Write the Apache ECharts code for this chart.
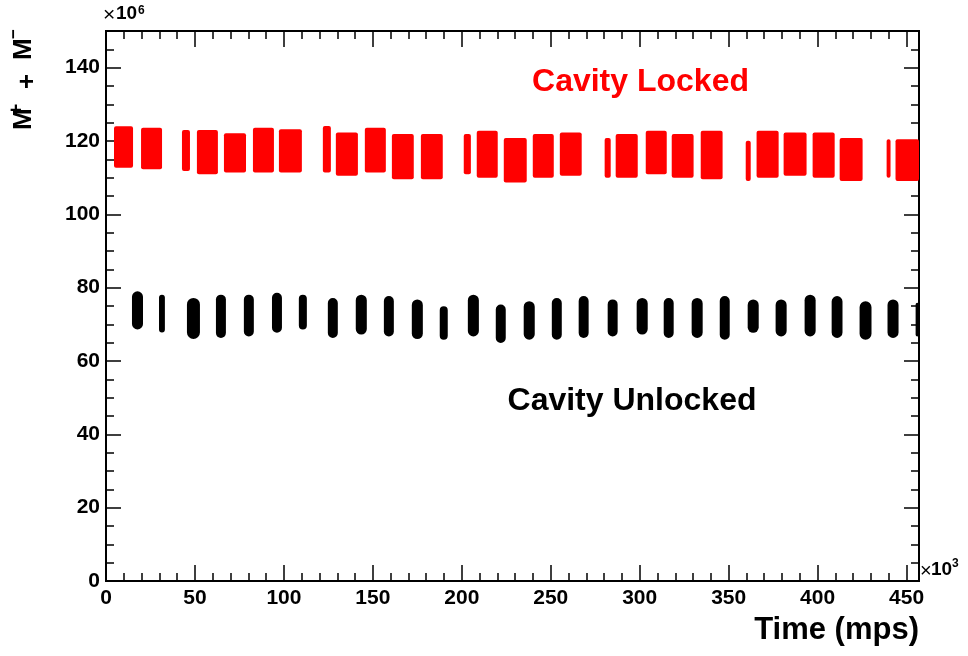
<!DOCTYPE html>
<html><head><meta charset="utf-8">
<script src="https://cdn.jsdelivr.net/npm/echarts@6/dist/echarts.min.js"></script>
<style>html,body{margin:0;padding:0;background:#fff}#c{width:968px;height:656px}</style>
</head><body><div id="c"></div>
<script>
// Time in units of 10^3 mps, signal in units of 10^6
const lockedStart = [4.5,19.7,42.7,51.1,66.3,82.6,97.2,121.9,129.2,145.5,160.7,177.0,201.1,208.4,223.6,239.9,255.1,280.3,286.5,303.4,318.0,334.3,359.6,365.7,380.9,397.2,412.4,438.8,443.8];
const lockedEnd   = [15.2,31.5,47.2,62.9,78.7,94.4,110.1,126.4,141.6,157.3,173.0,189.3,205.1,220.2,236.5,251.7,267.4,283.7,298.9,315.2,330.3,346.6,362.4,378.1,393.8,409.6,425.3,441.0,457];
const lockedLow   = [112.7,112.3,111.8,110.9,111.4,111.4,111.4,111.4,110.5,111.4,109.6,109.6,110.9,110.0,108.7,110.0,110.5,110.0,110.0,110.9,110.0,109.6,109.1,110.0,110.5,110.0,109.1,110.0,109.1];
const lockedHigh  = [124.0,123.6,123.0,123.0,122.1,123.6,123.2,124.1,122.3,123.6,121.9,121.9,121.9,122.8,120.8,121.9,122.3,120.8,121.9,122.8,121.9,122.8,120.1,122.8,122.3,122.3,120.8,120.5,120.5];

const unlockedStart = [14.6,29.8,45.5,61.8,77.5,93.3,108.4,124.7,140.4,156.2,171.9,187.6,203.4,219.1,234.8,250.6,265.7,282.0,298.3,313.5,329.2,345.0,360.7,376.4,392.7,407.9,423.6,439.3,455.1];
const unlockedEnd   = [20.8,33.1,52.8,67.4,83.1,98.9,112.9,130.3,146.6,161.8,178.1,192.1,209.6,224.7,241.0,256.2,271.3,287.6,304.5,319.1,335.4,350.6,366.9,382.6,398.9,414.0,430.3,445.5,457];
const unlockedLow   = [68.6,67.8,66.0,66.3,66.7,67.7,68.6,66.3,67.2,66.7,66.0,65.8,66.7,64.9,65.8,65.8,66.3,66.7,67.2,66.3,66.3,65.8,67.7,66.7,66.7,66.3,65.8,66.3,66.7];
const unlockedHigh  = [79.0,78.1,77.2,78.1,78.1,78.6,78.1,77.2,78.1,77.7,76.8,74.9,78.1,75.4,76.3,77.2,77.7,76.8,77.2,77.2,77.2,77.7,76.8,76.8,78.1,77.7,76.3,76.8,75.9];

const xMin = 0, xMax = 457, xMajor = 50, xMinor = 10;
const yMin = 0, yMax = 150, yMajor = 20, yMinor = 5;

const lockedData = lockedStart.map((s,i)=>[s, lockedEnd[i], lockedLow[i], lockedHigh[i]]);
const unlockedData = unlockedStart.map((s,i)=>[s, unlockedEnd[i], unlockedLow[i], unlockedHigh[i]]);

const FONT = 'Liberation Sans, Arial, Helvetica, sans-serif';

function makeRender(capsule){
  return function(params, api){
    const p1 = api.coord([api.value(0), api.value(3)]);
    const p2 = api.coord([api.value(1), api.value(2)]);
    const cs = params.coordSys;
    const rect = echarts.graphic.clipRectByRect(
      {x:p1[0], y:p1[1], width:p2[0]-p1[0], height:p2[1]-p1[1]},
      {x:cs.x, y:cs.y, width:cs.width, height:cs.height});
    if(!rect) return;
    const r = capsule ? Math.min(rect.width/2, rect.height/2) : 2;
    return {type:'rect', shape:{x:rect.x,y:rect.y,width:rect.width,height:rect.height,r:r},
            style:{fill: api.visual('color')}};
  };
}

function xAx(pos, interval, len, labels){
  return {type:'value', position:pos, min:xMin, max:xMax, interval:interval,
    axisLine:{show:true, onZero:false, lineStyle:{color:'#000', width:2}},
    axisTick:{show:true, inside:true, length:len, lineStyle:{color:'#000', width:1.5}},
    axisLabel:{show:labels, color:'#000', fontFamily:FONT, fontWeight:'bold', fontSize:21, margin:7,
      showMaxLabel:false, formatter:v=> (v % xMajor === 0 ? String(v) : '')},
    splitLine:{show:false}};
}
function yAx(pos, interval, len, labels){
  return {type:'value', position:pos, min:yMin, max:yMax, interval:interval,
    axisLine:{show:true, onZero:false, lineStyle:{color:'#000', width:2}},
    axisTick:{show:true, inside:true, length:len, lineStyle:{color:'#000', width:1.5}},
    axisLabel:{show:labels, color:'#000', fontFamily:FONT, fontWeight:'bold', fontSize:21, margin:6,
      showMaxLabel:false, formatter:v=> (v % yMajor === 0 ? String(v) : '')},
    splitLine:{show:false}};
}

function txt(x, y, s, font, fill, align){
  return {type:'text', x:x, y:y, style:{text:s, fill:fill||'#000', font:font, align:align||'left', verticalAlign:'middle'}};
}

const chart = echarts.init(document.getElementById('c'), null, {renderer:'canvas'});
chart.setOption({
  animation:false,
  backgroundColor:'#fff',
  grid:{left:106, right:49, top:31, bottom:75},
  xAxis:[xAx('bottom', xMajor, 16, true), xAx('bottom', xMinor, 8, false), xAx('top', xMajor, 16, false), xAx('top', xMinor, 8, false)],
  yAxis:[yAx('left', yMajor, 15, true), yAx('left', yMinor, 8, false), yAx('right', yMajor, 15, false), yAx('right', yMinor, 8, false)],
  series:[
    {type:'custom', name:'Cavity Locked', xAxisIndex:0, yAxisIndex:0, itemStyle:{color:'#ff0000'},
     renderItem:makeRender(false), encode:{x:[0,1], y:[2,3]}, data:lockedData},
    {type:'custom', name:'Cavity Unlocked', xAxisIndex:0, yAxisIndex:0, itemStyle:{color:'#000000'},
     renderItem:makeRender(true), encode:{x:[0,1], y:[2,3]}, data:unlockedData}
  ],
  graphic:[
    txt(640.5, 82, 'Cavity Locked', 'bold 32px '+FONT, '#ff0000', 'center'),
    txt(632, 401, 'Cavity Unlocked', 'bold 32px '+FONT, '#000', 'center'),
    txt(919, 630, 'Time (mps)', 'bold 31px '+FONT, '#000', 'right'),
    txt(103, 15, '×', '21px '+FONT),
    txt(116, 14, '10', 'bold 19px '+FONT),
    txt(138, 11, '6', 'bold 12px '+FONT),
    txt(920, 571, '×', '20px '+FONT),
    txt(931, 570, '10', 'bold 19px '+FONT),
    txt(952, 564, '3', 'bold 12px '+FONT),
    {type:'group', x:33, y:130, rotation:Math.PI/2, children:[
      txt(0, -9, 'M', 'bold 26px '+FONT),
      txt(14, -15.5, '+', 'bold 21px '+FONT),
      txt(41, -5.5, '+', 'bold 26px '+FONT),
      txt(70, -9, 'M', 'bold 26px '+FONT),
      txt(91, -19, '−', 'bold 17px '+FONT)
    ]}
  ]
});
</script></body></html>
